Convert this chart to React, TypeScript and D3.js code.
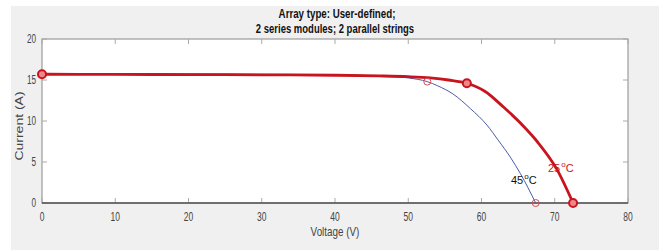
import React from "react";
import * as d3 from "d3";

// 25 °C curve (voltage V, current A)
const volts25 = [0, 10, 20, 30, 40, 46, 50, 53, 55.5, 58, 60.5, 63, 65.8, 67.6, 70.3, 72.5];
const amps25 = [15.7, 15.68, 15.66, 15.63, 15.58, 15.5, 15.4, 15.25, 15.0, 14.6, 13.6, 11.7, 9.3, 7.5, 4.1, 0];

// 45 °C curve
const volts45 = [0, 10, 20, 30, 40, 46, 50, 52.6, 54, 56.1, 58.5, 60.75, 62.25, 64, 65.3, 67.4];
const amps45 = [15.8, 15.78, 15.75, 15.7, 15.62, 15.5, 15.25, 14.8, 14.3, 13.3, 11.5, 9.5, 7.7, 5.5, 3.6, 0];

// marked points: Isc, MPP, Voc
const marks25 = [[0, 15.7], [58, 14.6], [72.5, 0]];
const marks45 = [[52.6, 14.8], [67.4, 0]];

const xTicks = [0, 10, 20, 30, 40, 50, 60, 70, 80];
const yTicks = [0, 5, 10, 15, 20];

const W = 659;
const H = 251;
const plot = { left: 42, right: 628, top: 39, bottom: 203 };

// squeezed text, the picture is narrower than it is tall
const T = ({ x, y, sx = 0.72, rot = 0, children, ...rest }: any) => (
  <text transform={`translate(${x},${y}) scale(${sx},1) rotate(${rot})`} {...rest}>
    {children}
  </text>
);

export default function App() {
  const x = d3.scaleLinear().domain([0, 80]).range([plot.left, plot.right]);
  const y = d3.scaleLinear().domain([0, 20]).range([plot.bottom, plot.top]);

  const line = d3
    .line<number>()
    .x((d) => x(d))
    .curve(d3.curveMonotoneX);

  const path25 = line.y((d, i) => y(amps25[i]))(volts25) || "";
  const path45 = line.y((d, i) => y(amps45[i]))(volts45) || "";

  const font = "Arial, 'Liberation Sans', sans-serif";
  const tickColor = "#444";

  return (
    <svg
      width={W}
      height={H}
      style={{ position: "absolute", left: 0, top: 0 }}
      fontFamily={font}
    >
      <rect x={0} y={0} width={W} height={H} fill="#fff" />
      <rect x={11} y={6} width={W - 11} height={244} fill="#f0f0f0" />
      <rect
        x={plot.left}
        y={plot.top}
        width={plot.right - plot.left}
        height={plot.bottom - plot.top}
        fill="#fff"
        stroke="#888"
        strokeWidth={1}
      />

      {/* title */}
      <g fontWeight="bold" fontSize={12.5} fill="#111" textAnchor="middle">
        <T x={337} y={18} sx={0.78}>Array type: User-defined;</T>
        <T x={335} y={33} sx={0.76}>2 series modules; 2 parallel strings</T>
      </g>

      {/* x ticks */}
      {xTicks.map((t) => (
        <g key={"x" + t}>
          <line x1={x(t)} x2={x(t)} y1={plot.bottom} y2={plot.bottom - 5} stroke="#aaa" />
          <line x1={x(t)} x2={x(t)} y1={plot.top} y2={plot.top + 5} stroke="#aaa" />
          <T x={x(t)} y={221} fontSize={12.5} fill={tickColor} textAnchor="middle" sx={0.68}>
            {t}
          </T>
        </g>
      ))}

      {/* y ticks */}
      {yTicks.map((t) => (
        <g key={"y" + t}>
          <line x1={plot.left} x2={plot.left + 5} y1={y(t)} y2={y(t)} stroke="#aaa" />
          <line x1={plot.right} x2={plot.right - 5} y1={y(t)} y2={y(t)} stroke="#aaa" />
          <T x={36} y={y(t) + 4} fontSize={12} fill={tickColor} textAnchor="end" sx={0.68}>
            {t}
          </T>
        </g>
      ))}

      {/* bottom axis line */}
      <line x1={plot.left} x2={plot.right} y1={plot.bottom} y2={plot.bottom} stroke="#555" strokeWidth={1.5} />

      {/* axis labels */}
      <T x={335} y={236} fontSize={12.5} fill={tickColor} textAnchor="middle" sx={0.79}>
        Voltage (V)
      </T>
      <T x={23} y={126} rot={-90} fontSize={14} fill={tickColor} textAnchor="middle" sx={0.75}>
        Current (A)
      </T>

      {/* curves */}
      <path d={path45} fill="none" stroke="#4a5aa8" strokeWidth={1} />
      <path d={path25} fill="none" stroke="#c8141e" strokeWidth={2.8} />

      {marks45.map((m, i) => (
        <circle key={"m45" + i} cx={x(m[0])} cy={y(m[1])} r={3.5} fill="none" stroke="#d0505a" strokeWidth={1} />
      ))}
      {marks25.map((m, i) => (
        <circle key={"m25" + i} cx={x(m[0])} cy={y(m[1])} r={4} fill="#e88" stroke="#c8141e" strokeWidth={2} />
      ))}

      {/* temperature labels */}
      <text x={548} y={172} fontSize={11} fill="#c8141e">
        25
        <tspan dx={1} dy={-5} fontSize={8}>o</tspan>
        <tspan dy={5}>C</tspan>
      </text>
      <text x={511} y={184} fontSize={11} fill="#111">
        45
        <tspan dx={1} dy={-5} fontSize={8}>o</tspan>
        <tspan dy={5}>C</tspan>
      </text>
    </svg>
  );
}
